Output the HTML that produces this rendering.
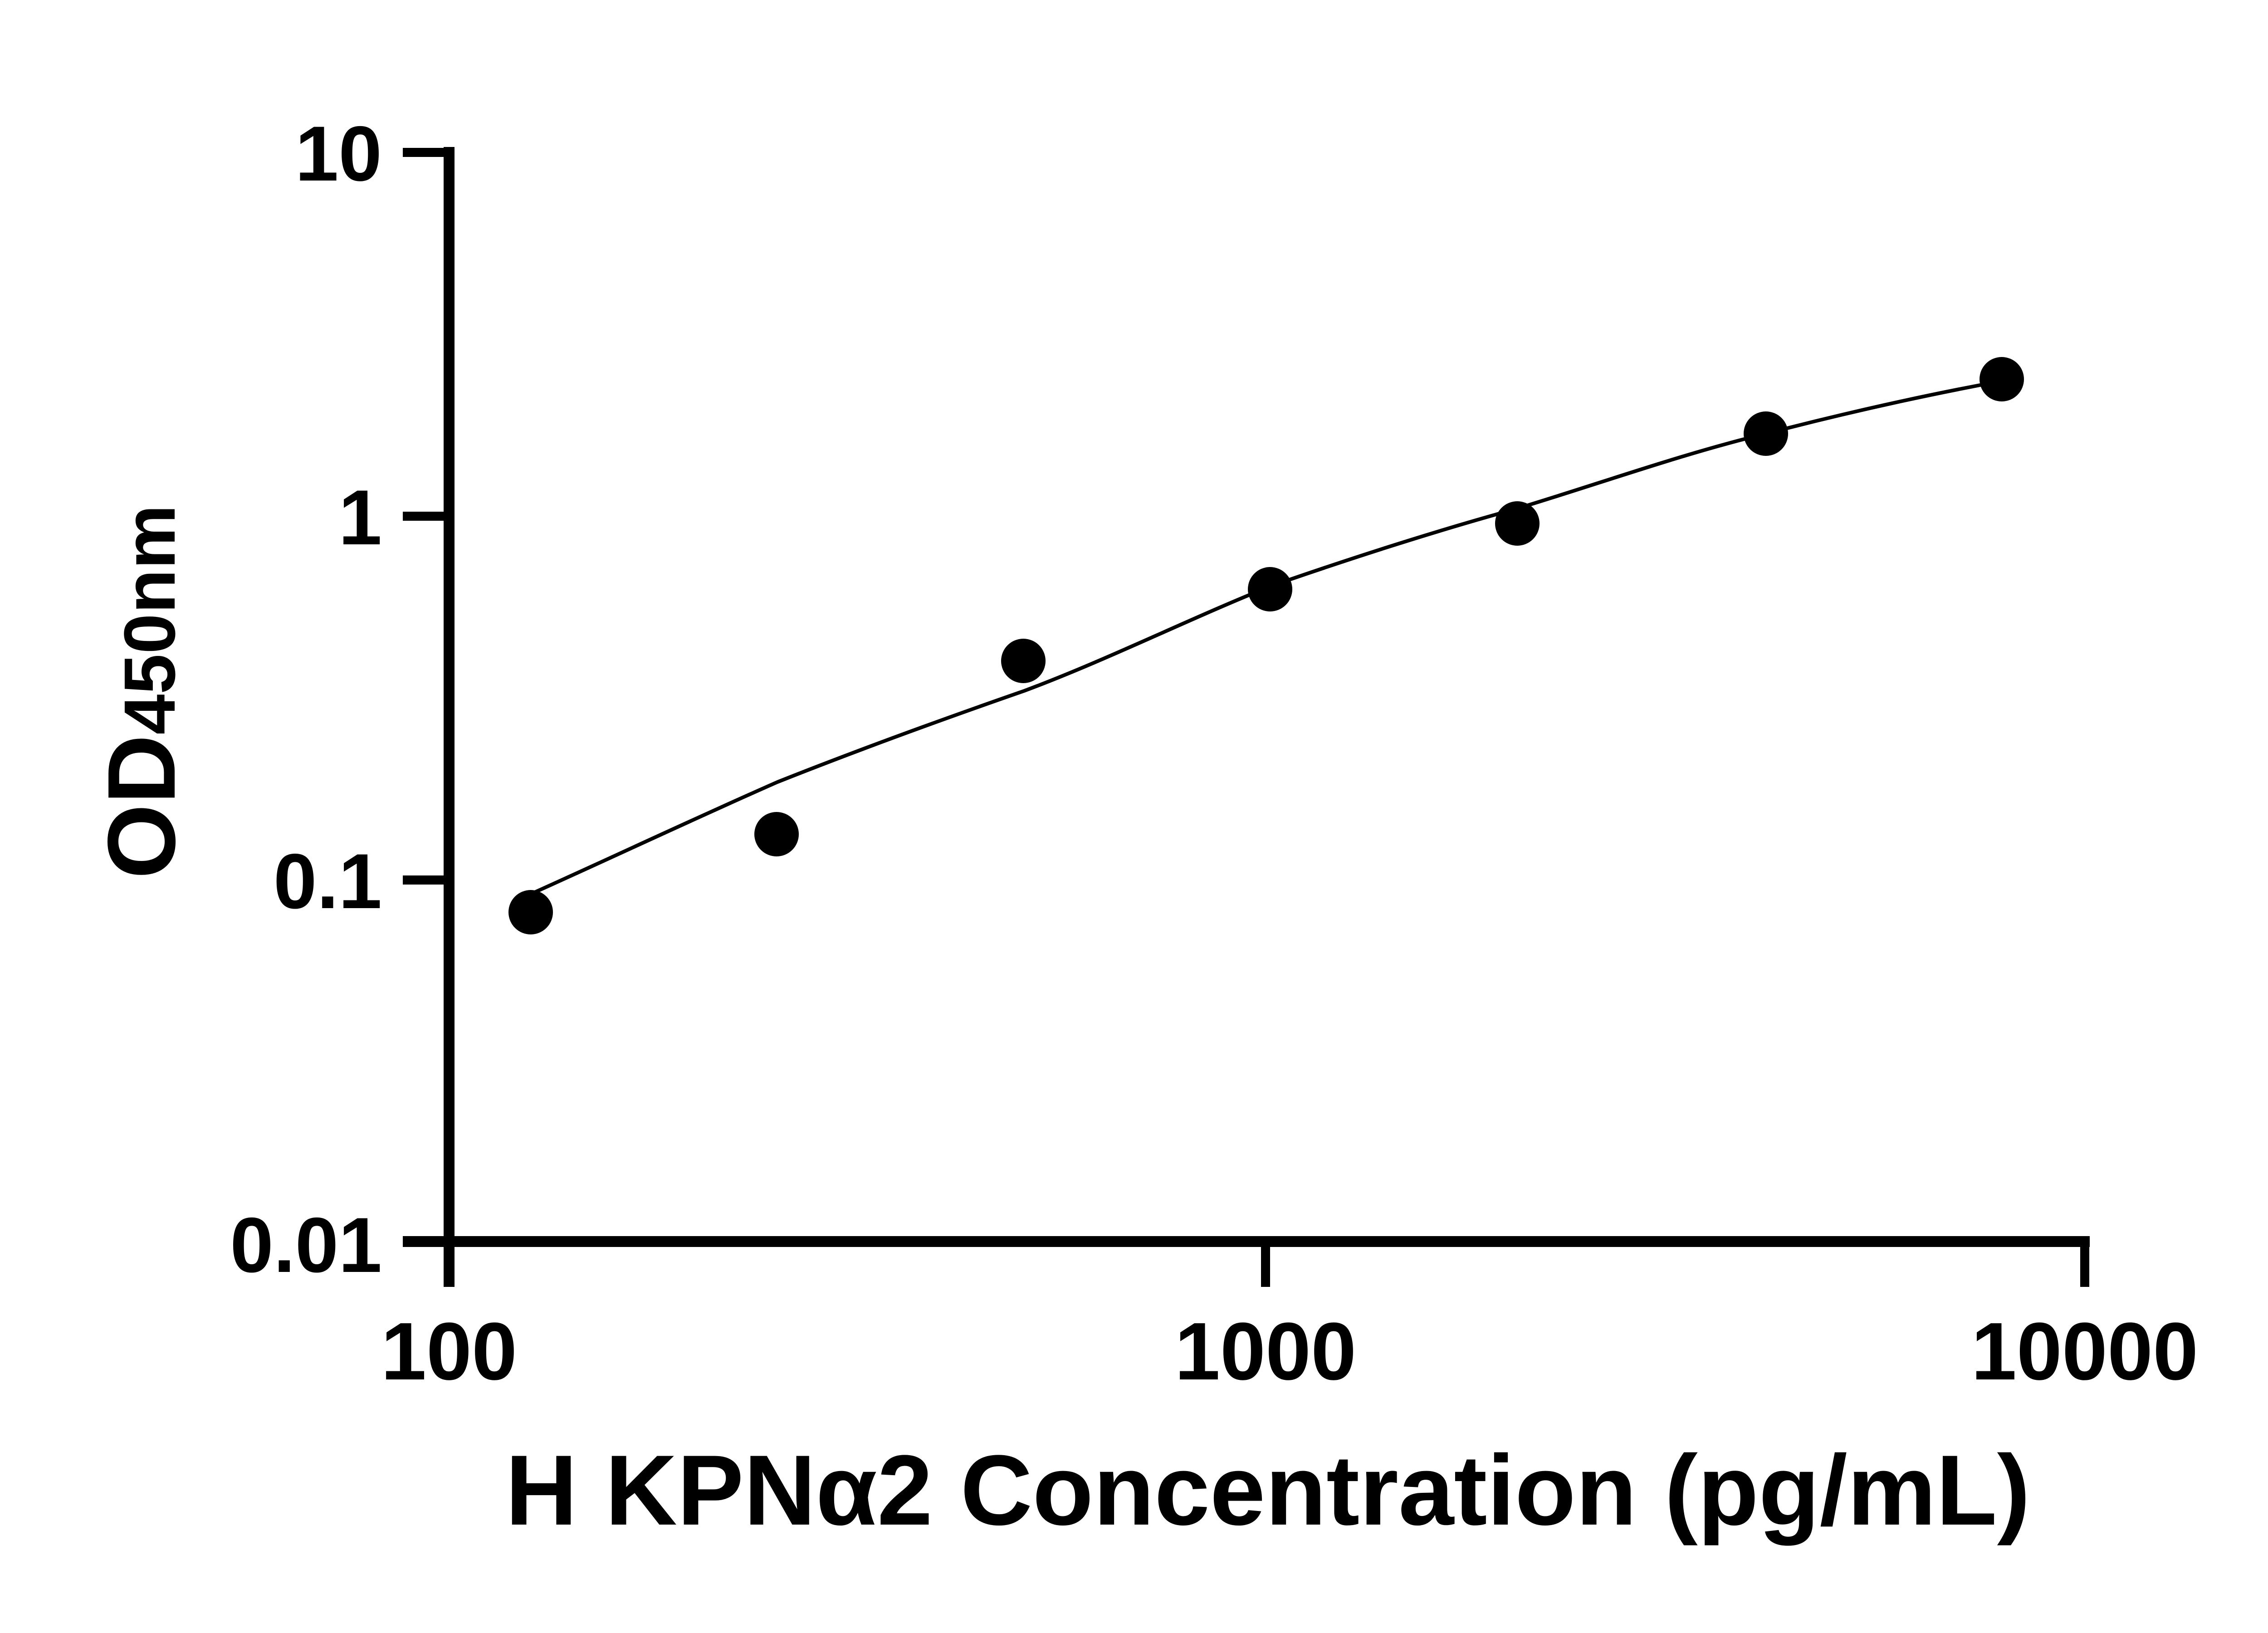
<!DOCTYPE html>
<html><head><meta charset="utf-8"><style>
html,body{margin:0;padding:0;background:#fff}
svg{display:block}
text{font-family:"Liberation Sans",sans-serif;font-weight:bold;fill:#000}
</style></head><body>
<svg width="5142" height="3600" viewBox="0 0 5142 3600" xmlns="http://www.w3.org/2000/svg">
<g stroke="#000" fill="none">
<line x1="990" y1="324" x2="990" y2="2837" stroke-width="24"/>
<line x1="888" y1="2737" x2="4607" y2="2737" stroke-width="24"/>
<line x1="888" y1="336" x2="990" y2="336" stroke-width="20"/>
<line x1="888" y1="1138" x2="990" y2="1138" stroke-width="20"/>
<line x1="888" y1="1940" x2="990" y2="1940" stroke-width="20"/>
<line x1="2790" y1="2737" x2="2790" y2="2837" stroke-width="20"/>
<line x1="4596" y1="2737" x2="4596" y2="2837" stroke-width="20"/>
<path d="M1170,1971 C1350,1890 1530,1805 1714,1724 C1900,1650 2080,1585 2258,1523 C2440,1455 2620,1365 2802,1292 C2980,1230 3160,1172 3345,1121 C3530,1065 3710,1000 3893,956 C4070,910 4250,870 4413,840" stroke-width="8"/>
</g>
<g fill="#000">
<circle cx="1170" cy="2011" r="49"/>
<circle cx="1712" cy="1839" r="49"/>
<circle cx="2256" cy="1457" r="49"/>
<circle cx="2800" cy="1299" r="49"/>
<circle cx="3345" cy="1154" r="49"/>
<circle cx="3893" cy="956" r="49"/>
<circle cx="4413" cy="836" r="49"/>
</g>
<g font-size="172" text-anchor="end">
<text x="842" y="398">10</text>
<text x="842" y="1200">1</text>
<text x="842" y="2002">0.1</text>
<text x="842" y="2804">0.01</text>
</g>
<g font-size="180" text-anchor="middle">
<text x="990" y="3041">100</text>
<text x="2790" y="3041">1000</text>
<text x="4596" y="3041">10000</text>
</g>
<text x="2795" y="3361" font-size="220" text-anchor="middle">H KPNα2 Concentration (pg/mL)</text>
<text transform="translate(385,1525) rotate(-90)" text-anchor="middle" font-size="212">OD<tspan font-size="160">450nm</tspan></text>
</svg>
</body></html>
